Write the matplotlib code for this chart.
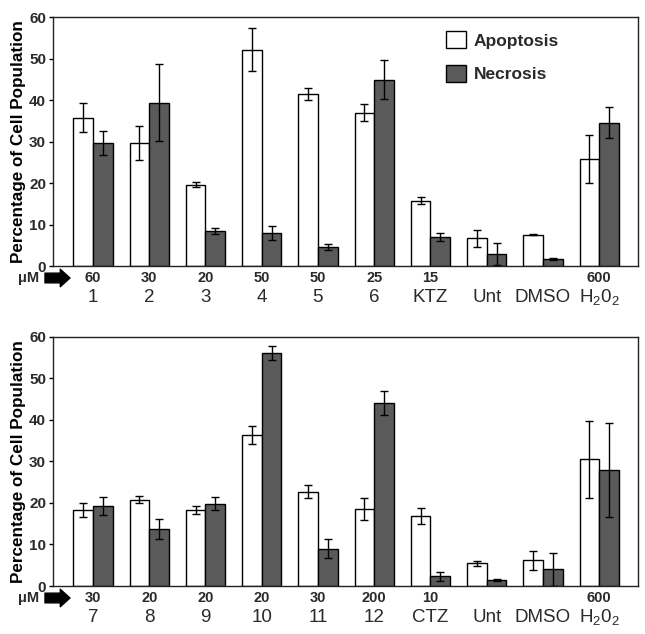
import matplotlib.pyplot as plt
import numpy as np

plt.rcParams['font.family'] = ['Liberation Sans', 'DejaVu Sans']

# top panel data
top_names = ['1', '2', '3', '4', '5', '6', 'KTZ', 'Unt', 'DMSO', '$\\mathregular{H_20_2}$']
top_conc = ['60', '30', '20', '50', '50', '25', '15', '', '', '600']
top_apop = [35.8, 29.7, 19.6, 52.2, 41.5, 37.0, 15.8, 6.7, 7.6, 25.8]
top_apop_err = [3.4, 4.2, 0.6, 5.2, 1.4, 2.0, 0.9, 2.0, 0.15, 5.8]
top_necr = [29.7, 39.4, 8.4, 8.0, 4.7, 44.9, 7.1, 2.9, 1.7, 34.6]
top_necr_err = [2.9, 9.3, 0.7, 1.6, 0.7, 4.7, 1.0, 2.6, 0.3, 3.8]

# bottom panel data
bot_names = ['7', '8', '9', '10', '11', '12', 'CTZ', 'Unt', 'DMSO', '$\\mathregular{H_20_2}$']
bot_conc = ['30', '20', '20', '20', '30', '200', '10', '', '', '600']
bot_apop = [18.3, 20.8, 18.3, 36.4, 22.7, 18.5, 16.9, 5.5, 6.2, 30.5]
bot_apop_err = [1.8, 0.9, 0.9, 2.2, 1.6, 2.6, 1.9, 0.6, 2.3, 9.2]
bot_necr = [19.2, 13.7, 19.8, 56.1, 9.0, 44.1, 2.3, 1.4, 4.0, 27.9]
bot_necr_err = [2.2, 2.5, 1.6, 1.7, 2.3, 2.9, 1.0, 0.2, 3.9, 11.3]

dark = '#5a5a5a'
txt = '#2a2a2a'
w = 0.35

fig = plt.figure(figsize=(6.45, 6.34), dpi=100)


def panel(rect, names, conc, apop, apop_err, necr, necr_err, arrow_y):
    ax = fig.add_axes(rect)
    x = np.arange(len(names))
    ax.bar(x - w / 2, apop, w, yerr=apop_err, color='white', edgecolor='black',
           linewidth=1, error_kw=dict(ecolor='black', elinewidth=1, capsize=3, capthick=1),
           label='Apoptosis')
    ax.bar(x + w / 2, necr, w, yerr=necr_err, color=dark, edgecolor='black',
           linewidth=1, error_kw=dict(ecolor='black', elinewidth=1, capsize=3, capthick=1),
           label='Necrosis')
    ax.set_xlim(-0.71, 9.69)
    ax.set_ylim(0, 60)
    ax.set_yticks(range(0, 61, 10))
    ax.set_xticks([])
    ax.tick_params(axis='y', direction='out', length=3, width=1, labelsize=11,
                   labelcolor=txt, pad=2)
    for lab in ax.get_yticklabels():
        lab.set_fontweight('bold')
    for s in ax.spines.values():
        s.set_linewidth(1)
        s.set_color('#222222')
    ax.set_ylabel('Percentage of Cell Population', fontsize=12.3, fontweight='bold',
                  labelpad=2)
    for i in range(len(names)):
        ax.annotate(conc[i], xy=(i, 0), xycoords=('data', 'axes fraction'),
                    xytext=(0, -12), textcoords='offset pixels', ha='center',
                    va='center', fontsize=10.5, fontweight='bold', color=txt)
        ax.annotate(names[i], xy=(i, 0), xycoords=('data', 'axes fraction'),
                    xytext=(0, -31), textcoords='offset pixels', ha='center',
                    va='center', fontsize=13.5, color=txt)
    fig.text(18 / 645, 1 - arrow_y / 634, '\u03bcM', ha='left', va='center',
             fontsize=10.5, fontweight='bold', color=txt)
    ax.annotate('', xy=(70, 634 - arrow_y), xytext=(45, 634 - arrow_y),
                xycoords='figure pixels', textcoords='figure pixels',
                arrowprops=dict(arrowstyle='simple,head_length=0.5,head_width=0.9,tail_width=0.5',
                                color='black', mutation_scale=14, shrinkA=0, shrinkB=0))
    return ax


ax1 = panel([53 / 645, 0.580, 585 / 645, 0.393], top_names, top_conc,
            top_apop, top_apop_err, top_necr, top_necr_err, 278)
ax1.legend(loc='upper left', bbox_to_anchor=(0.645, 1.005), frameon=False,
           prop=dict(weight='bold', size=12.5),
           handlelength=1.15, handleheight=1.1, labelspacing=0.95, handletextpad=0.45)
for t in ax1.get_legend().get_texts():
    t.set_color(txt)

ax2 = panel([53 / 645, 0.0757, 585 / 645, 0.393], bot_names, bot_conc,
            bot_apop, bot_apop_err, bot_necr, bot_necr_err, 598)

fig.savefig('out.png', dpi=100)
